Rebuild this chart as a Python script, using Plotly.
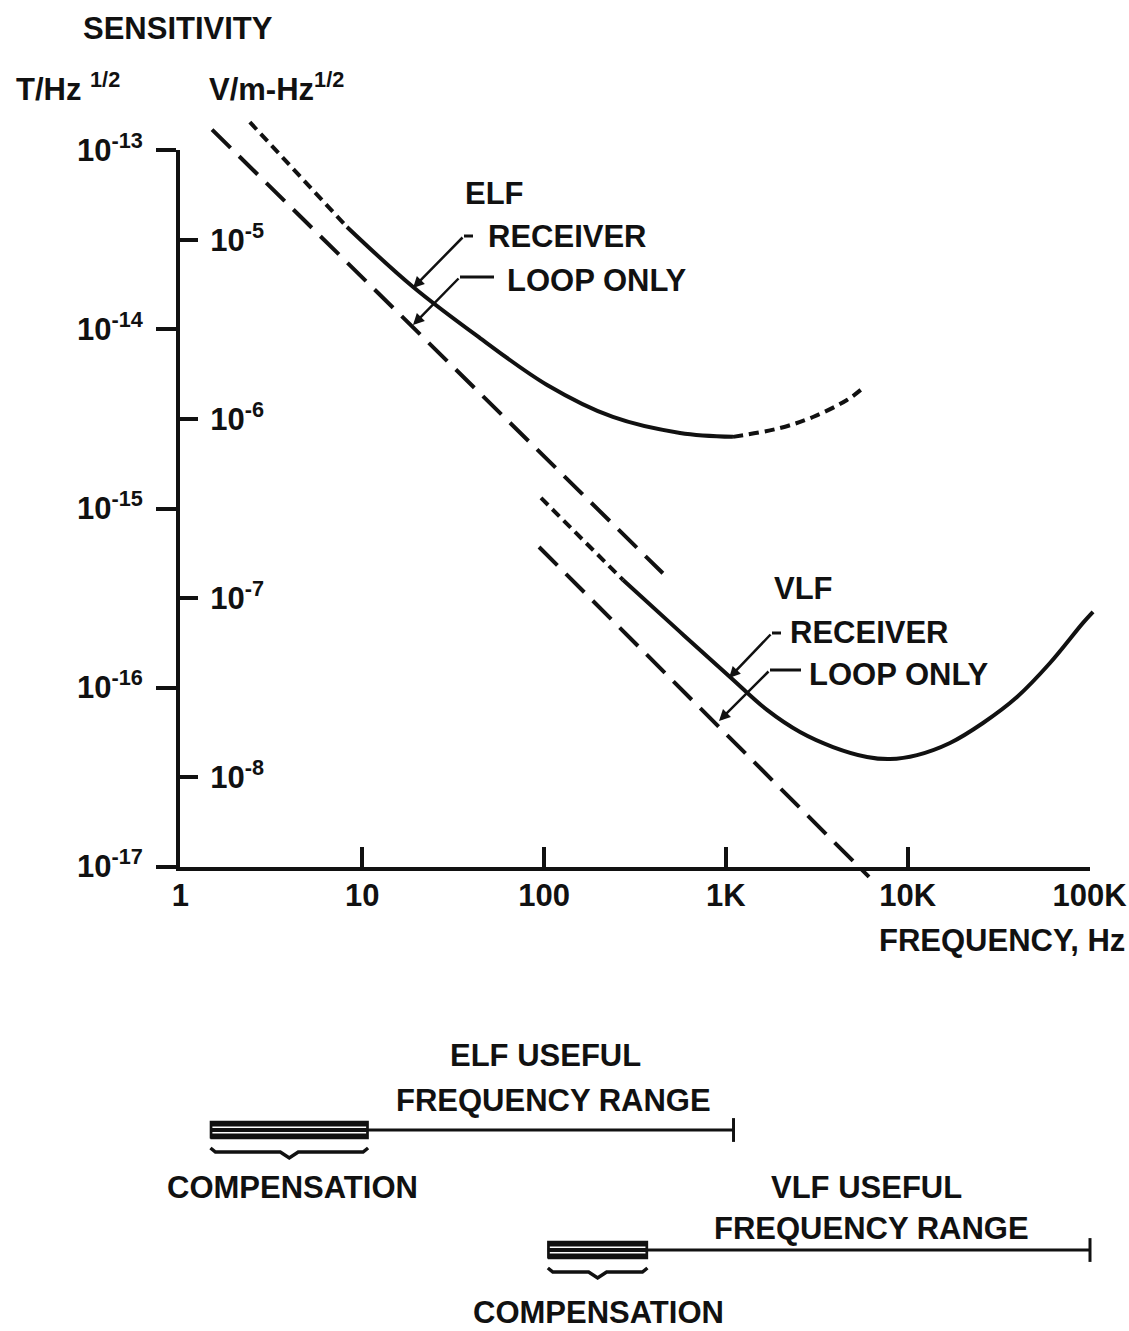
import plotly.graph_objects as go

W, H = 1129, 1331

# ---------------- data ----------------
# ELF loop-only sensitivity (straight dashed line), T/Hz^1/2 vs Hz
ELF_LOOP_F = [1.5, 450]
ELF_LOOP_S = [1.3e-13, 4.35e-16]

# ELF receiver: low-frequency dotted extrapolation, solid measured part, high dotted part
ELF_RX_LOWDOT_F = [2.42, 8.27]
ELF_RX_LOWDOT_S = [1.43e-13, 3.72e-14]
ELF_RX_F = [8.27, 19.1, 44.5, 104, 239, 559, 1092]
ELF_RX_S = [3.72e-14, 1.72e-14, 8.93e-15, 4.89e-15, 3.24e-15, 2.64e-15, 2.51e-15]
ELF_RX_HIDOT_F = [1092, 1980, 3006, 4622, 5660]
ELF_RX_HIDOT_S = [2.51e-15, 2.81e-15, 3.24e-15, 4.03e-15, 4.70e-15]

# VLF loop-only sensitivity (straight dashed line)
VLF_LOOP_F = [93.9, 6106]
VLF_LOOP_S = [6.1e-16, 8.8e-18]

# VLF receiver: dotted extrapolation and solid part
VLF_RX_DOT_F = [96.3, 272]
VLF_RX_DOT_S = [1.145e-15, 3.99e-16]
VLF_RX_F = [272, 559, 1052, 1680, 2551, 3872, 5953, 7963, 11210, 17010, 25830, 39720,
            60290, 91530, 103900]
VLF_RX_S = [3.99e-16, 2.05e-16, 1.148e-16, 7.52e-17, 5.66e-17, 4.67e-17, 4.11e-17, 4.00e-17,
            4.21e-17, 4.92e-17, 6.36e-17, 8.88e-17, 1.374e-16, 2.30e-16, 2.65e-16]

# axis ticks
F_TICKS = [1, 10, 100, 1e3, 1e4, 1e5]
F_TICK_TEXT = ["1", "10", "100", "1K", "10K", "100K"]
T_TICKS = [1e-13, 1e-14, 1e-15, 1e-16, 1e-17]
T_TICK_TEXT = ["10<sup>-13</sup>", "10<sup>-14</sup>", "10<sup>-15</sup>",
               "10<sup>-16</sup>", "10<sup>-17</sup>"]
E_TICKS = [1e-5, 1e-6, 1e-7, 1e-8]
E_TICK_TEXT = ["10<sup>-5</sup>", "10<sup>-6</sup>", "10<sup>-7</sup>", "10<sup>-8</sup>"]

# useful frequency ranges (bottom diagram)
RANGE_ROWS = [1, 0]            # ELF row, VLF row
COMP_START = [1.47, 105]
COMP_END = [10.8, 370]
RANGE_END = [1100, 100000]

# ---------------- geometry ----------------
X_LEFT, X_RIGHT = 180, 1090      # pixel of 1 Hz and 100 kHz
Y_TOP, Y_BOT = 150, 867          # pixel of 1e-13 and 1e-17
PXD_X = (X_RIGHT - X_LEFT) / 5.0
PXD_Y = (Y_BOT - Y_TOP) / 4.0
XR = [0 - X_LEFT / PXD_X, 5 + (W - X_RIGHT) / PXD_X]
YR = [-17 - (H - Y_BOT) / PXD_Y, -13 + Y_TOP / PXD_Y]
ROW_PX = {1: 1130, 0: 1250}
UNIT_PX = ROW_PX[0] - ROW_PX[1]          # pixels per row unit
Y4R = [0 - (H - ROW_PX[0]) / UNIT_PX, 1 + ROW_PX[1] / UNIT_PX]
EPS = 0.002

FONT = "Liberation Sans, Arial, Helvetica, sans-serif"
FS = 31
BLACK = "#111111"
LW = 4


def px(x):
    return x / W


def py(y):
    return 1 - y / H


fig = go.Figure()


def line(xs, ys, dash="solid", width=LW, shape="linear", yaxis="y"):
    fig.add_trace(go.Scatter(x=xs, y=ys, mode="lines", xaxis="x", yaxis=yaxis,
                             line=dict(color=BLACK, width=width, dash=dash, shape=shape, smoothing=1.0),
                             showlegend=False, hoverinfo="skip"))


DASH = "26px,12px"
DOT = "10px,6px"

line(ELF_LOOP_F, ELF_LOOP_S, dash=DASH)
line(ELF_RX_LOWDOT_F, ELF_RX_LOWDOT_S, dash=DOT)
line(ELF_RX_F, ELF_RX_S, shape="spline")
line(ELF_RX_HIDOT_F, ELF_RX_HIDOT_S, dash=DOT, shape="spline")
line(VLF_LOOP_F, VLF_LOOP_S, dash=DASH)
line(VLF_RX_DOT_F, VLF_RX_DOT_S, dash=DOT)
line(VLF_RX_F, VLF_RX_S, shape="spline")

# ---------------- bottom range diagram ----------------
u = 1.0 / UNIT_PX
HALF = 8.5 * u
for r, a, b, e in zip(RANGE_ROWS, COMP_START, COMP_END, RANGE_END):
    line([a, e], [r, r], width=3, yaxis="y4")
    fig.add_trace(go.Scatter(x=[a, b, b, a, a], y=[r - HALF, r - HALF, r + HALF, r + HALF, r - HALF],
                             mode="lines", fill="toself", fillcolor=BLACK, xaxis="x", yaxis="y4",
                             line=dict(color=BLACK, width=1.5), showlegend=False, hoverinfo="skip"))
    for off in (-2.8, 2.8):
        yy = r + off * u
        fig.add_trace(go.Scatter(x=[a * 1.025, b / 1.025], y=[yy, yy], mode="lines",
                                 xaxis="x", yaxis="y4", line=dict(color="white", width=1.4),
                                 showlegend=False, hoverinfo="skip"))
    m = (a * b) ** 0.5
    k1 = 10 ** (5 / PXD_X)
    k2 = 10 ** (9 / PXD_X)
    bx = [a, a * k1, m / k2, m, m * k2, b / k1, b]
    by = [r - 18 * u, r - 22 * u, r - 22 * u, r - 28 * u, r - 22 * u, r - 22 * u, r - 18 * u]
    line(bx, by, width=3.5, yaxis="y4")

fig.add_trace(go.Scatter(x=RANGE_END, y=RANGE_ROWS, mode="markers", xaxis="x", yaxis="y4",
                         marker=dict(symbol="line-ns", size=17, line=dict(color=BLACK, width=3)),
                         showlegend=False, hoverinfo="skip"))

# dummy traces to materialise the decoration axes
fig.add_trace(go.Scatter(x=[None], y=[None], xaxis="x2", yaxis="y2", showlegend=False))
fig.add_trace(go.Scatter(x=[None], y=[None], xaxis="x2", yaxis="y3", showlegend=False))

tickfont = dict(family=FONT, size=FS, color=BLACK, weight="bold")

fig.update_layout(
    width=W, height=H, autosize=False,
    margin=dict(l=0, r=0, t=0, b=0, pad=0, autoexpand=False),
    paper_bgcolor="white", plot_bgcolor="rgba(0,0,0,0)",
    showlegend=False,
    xaxis=dict(type="log", range=XR, domain=[0, 1], visible=False, fixedrange=True),
    yaxis=dict(type="log", range=YR, domain=[0, 1], visible=False, fixedrange=True),
    yaxis4=dict(range=Y4R, overlaying="y", anchor="x", visible=False),
    xaxis2=dict(type="log", range=[-EPS, 5 + EPS], domain=[X_LEFT / W, X_RIGHT / W], anchor="y2",
                showline=True, linecolor=BLACK, linewidth=LW, showgrid=False, zeroline=False,
                ticks="inside", ticklen=20, tickwidth=LW, tickcolor=BLACK,
                tickvals=F_TICKS, ticktext=F_TICK_TEXT, tickfont=tickfont, ticklabelstandoff=-2),
    yaxis2=dict(type="log", range=[-17 - EPS, -13 + EPS], domain=[1 - Y_BOT / H, 1 - Y_TOP / H],
                anchor="x2",
                showline=True, linecolor=BLACK, linewidth=LW, showgrid=False, zeroline=False,
                ticks="outside", ticklen=20, tickwidth=LW, tickcolor=BLACK,
                tickvals=T_TICKS, ticktext=T_TICK_TEXT, tickfont=tickfont, ticklabelstandoff=7),
    yaxis3=dict(type="log", range=[-8.5 - EPS, -4.5 + EPS], overlaying="y2", anchor="free",
                position=(X_LEFT - 3) / W, side="right",
                showline=False, showgrid=False, zeroline=False,
                ticks="outside", ticklen=20, tickwidth=LW, tickcolor=BLACK,
                tickvals=E_TICKS, ticktext=E_TICK_TEXT,
                tickfont=tickfont, ticklabelstandoff=6),
)

afont = dict(family=FONT, size=FS, color=BLACK, weight="bold")
labels = [
    ("SENSITIVITY", 82, 28, "left"),
    ("T/Hz <sup>1/2</sup>", 15, 87, "left"),
    ("V/m-Hz<sup>1/2</sup>", 208, 87, "left"),
    ("ELF", 464, 193, "left"),
    ("RECEIVER", 487, 237, "left"),
    ("LOOP ONLY", 506, 280, "left"),
    ("VLF", 773, 589, "left"),
    ("RECEIVER", 789, 632, "left"),
    ("LOOP ONLY", 808, 674, "left"),
    ("FREQUENCY, Hz", 1126, 940, "right"),
    ("ELF USEFUL", 545, 1055, "center"),
    ("FREQUENCY RANGE", 553, 1100, "center"),
    ("COMPENSATION", 292, 1187, "center"),
    ("VLF USEFUL", 866, 1187, "center"),
    ("FREQUENCY RANGE", 871, 1228, "center"),
    ("COMPENSATION", 598, 1312, "center"),
]
for t, x, y, anc in labels:
    fig.add_annotation(text=t, x=px(x), y=py(y), xref="paper", yref="paper",
                       xanchor=anc, yanchor="middle", showarrow=False, font=afont,
                       borderpad=0)

# leader lines: short horizontal stub + arrow to the curve
leaders = [
    ((473, 236), (464, 236), (413, 288)),
    ((494, 277), (460, 277), (413, 325)),
    ((781, 633), (772, 633), (729, 678)),
    ((801, 670), (770, 670), (719, 721)),
]
for (sx, sy), (bx_, by_), (tx, ty) in leaders:
    fig.add_shape(type="line", xref="paper", yref="paper", x0=px(sx), y0=py(sy),
                  x1=px(bx_), y1=py(by_), line=dict(color=BLACK, width=3))
    fig.add_annotation(x=px(tx), y=py(ty), xref="paper", yref="paper", text="",
                       showarrow=True, ax=bx_ - tx, ay=by_ - ty, axref="pixel", ayref="pixel",
                       arrowhead=2, arrowsize=0.9, arrowwidth=2.5, arrowcolor=BLACK, standoff=0)

fig.write_html("out.html")
